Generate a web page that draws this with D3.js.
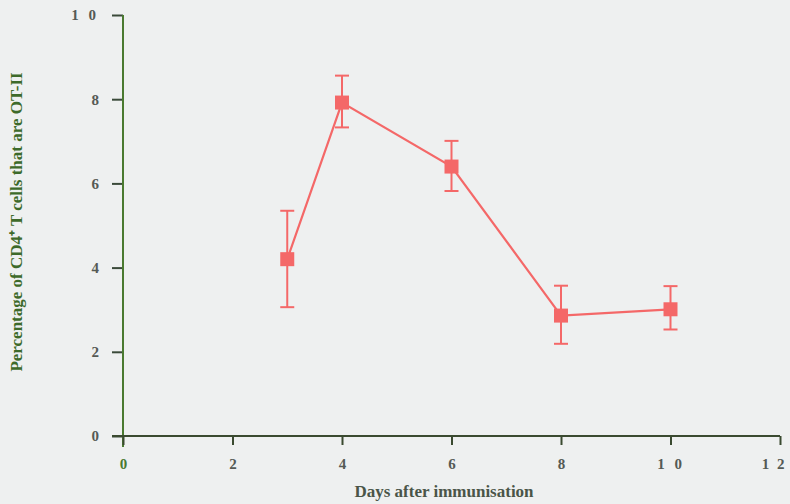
<!DOCTYPE html>
<html><head><meta charset="utf-8">
<script src="https://cdn.jsdelivr.net/npm/d3@7"></script>
<style>
html,body{margin:0;padding:0;background:#eef0f0;}
svg{display:block;}
text{font-family:"Liberation Serif","Times New Roman",serif;font-weight:bold;}
</style></head>
<body>
<svg id="chart" width="790" height="504"></svg>
<script>
const days = [3, 4, 6, 8, 10];
const means = [4.2, 7.92, 6.4, 2.86, 3.01];
const errHigh = [5.35, 8.56, 7.01, 3.57, 3.56];
const errLow = [3.06, 7.33, 5.82, 2.19, 2.53];
const xTicks = [0, 2, 4, 6, 8, 10, 12];
const xTickLabels = ["0", "2", "4", "6", "8", "1 0", "1 2"];
const yTicks = [0, 2, 4, 6, 8, 10];
const yTickLabels = ["0", "2", "4", "6", "8", "1 0"];
const xTitle = "Days after immunisation";
const yTitle = "Percentage of CD4\u207A T cells that are OT-II";

const svg = d3.select("#chart");
const x = d3.scaleLinear().domain([0, 12]).range([123, 780]);
const y = d3.scaleLinear().domain([0, 10]).range([436, 15]);

const axisCol = "#3a4a30";
const greenCol = "#4a7a30";
const labelCol = "#555a55";
const red = "#f46868";

// Y axis
const yAxis = svg.append("g").attr("transform", `translate(${x(0)},0)`)
  .call(d3.axisLeft(y).tickValues(yTicks).tickSize(11).tickPadding(13)
    .tickFormat((d, i) => yTickLabels[i]));
yAxis.select(".domain").remove();
yAxis.append("line").attr("x1", 0).attr("x2", 0).attr("y1", y(10)).attr("y2", y(0) + 11)
  .attr("stroke", greenCol).attr("stroke-width", 2);
yAxis.selectAll(".tick line").attr("stroke", "#3a4a3a").attr("stroke-width", 2);
yAxis.selectAll(".tick text").attr("fill", labelCol).attr("font-size", 15)
  .style("font-family", "Liberation Serif").style("font-weight", "bold");

// X axis
const xAxis = svg.append("g").attr("transform", `translate(0,${y(0)})`)
  .call(d3.axisBottom(x).tickValues(xTicks).tickSize(9).tickPadding(13)
    .tickFormat((d, i) => xTickLabels[i]));
xAxis.select(".domain").remove();
xAxis.append("line").attr("x1", x(0) - 11).attr("x2", x(12)).attr("y1", 0).attr("y2", 0)
  .attr("stroke", axisCol).attr("stroke-width", 2.2);
xAxis.selectAll(".tick line").attr("stroke", axisCol).attr("stroke-width", 2);
xAxis.selectAll(".tick text").attr("fill", labelCol).attr("font-size", 15)
  .style("font-family", "Liberation Serif").style("font-weight", "bold");
xAxis.selectAll(".tick text").filter((d) => d === 0).attr("fill", greenCol);
svg.selectAll(".tick text").filter(function () { return this.textContent.includes(" "); })
  .attr("letter-spacing", 3);
// keep the last label inside the picture
xAxis.selectAll(".tick text").filter((d) => d === 12)
  .attr("text-anchor", "end").attr("x", 786 - x(12)).attr("letter-spacing", 2);

// Data
const data = days.map((d, i) => ({d, m: means[i], hi: errHigh[i], lo: errLow[i]}));

const err = svg.append("g").attr("stroke", red).attr("stroke-width", 2);
data.forEach(p => {
  err.append("line").attr("x1", x(p.d)).attr("x2", x(p.d)).attr("y1", y(p.hi)).attr("y2", y(p.lo));
  err.append("line").attr("x1", x(p.d) - 7).attr("x2", x(p.d) + 7).attr("y1", y(p.hi)).attr("y2", y(p.hi));
  err.append("line").attr("x1", x(p.d) - 7).attr("x2", x(p.d) + 7).attr("y1", y(p.lo)).attr("y2", y(p.lo));
});

svg.append("path").datum(data)
  .attr("fill", "none").attr("stroke", red).attr("stroke-width", 2.2)
  .attr("d", d3.line().x(p => x(p.d)).y(p => y(p.m)));

svg.append("g").selectAll("rect").data(data).join("rect")
  .attr("x", p => x(p.d) - 7).attr("y", p => y(p.m) - 7)
  .attr("width", 14).attr("height", 14).attr("fill", red);

// Titles
svg.append("text").attr("x", 444).attr("y", 497).attr("text-anchor", "middle")
  .attr("font-size", 17).attr("fill", "#4a5548").text(xTitle);

svg.append("text").attr("transform", "translate(22,222) rotate(-90)")
  .attr("text-anchor", "middle").attr("font-size", 17).attr("fill", "#3d6a2a").text(yTitle);
</script>
</body></html>
